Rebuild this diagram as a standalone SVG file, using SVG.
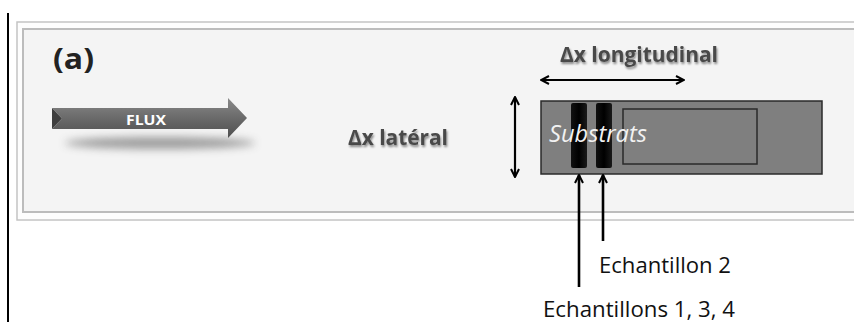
<svg xmlns="http://www.w3.org/2000/svg" width="854" height="322" viewBox="0 0 854 322">
  <defs>
    <linearGradient id="flux" x1="0" y1="0" x2="0" y2="1">
      <stop offset="0" stop-color="#8a8a8a"/>
      <stop offset="0.5" stop-color="#6a6a6a"/>
      <stop offset="1" stop-color="#4e4e4e"/>
    </linearGradient>
    <linearGradient id="bar" x1="0" y1="0" x2="1" y2="0">
      <stop offset="0" stop-color="#111"/>
      <stop offset="0.5" stop-color="#000"/>
      <stop offset="1" stop-color="#1a1a1a"/>
    </linearGradient>
    <filter id="blur" x="-20%" y="-100%" width="140%" height="300%">
      <feGaussianBlur stdDeviation="4"/>
    </filter>
    <filter id="tshadow" x="-10%" y="-30%" width="130%" height="160%">
      <feGaussianBlur in="SourceAlpha" stdDeviation="1.2"/>
      <feOffset dx="1" dy="1.5" result="b"/>
      <feComponentTransfer><feFuncA type="linear" slope="0.45"/></feComponentTransfer>
      <feMerge><feMergeNode/><feMergeNode in="SourceGraphic"/></feMerge>
    </filter>
    <marker id="ah" viewBox="0 0 10 10" refX="9" refY="5" markerWidth="10" markerHeight="10" markerUnits="userSpaceOnUse" orient="auto-start-reverse">
      <path d="M1,1 L9,5 L1,9" fill="none" stroke="#000" stroke-width="2"/>
    </marker>
  </defs>
  <style>
    .lbl { font-family: "Open Sans", "Liberation Sans", sans-serif; font-weight: bold; fill: #4a4a4a; }
    .cap { font-family: "Open Sans", "Liberation Sans", sans-serif; fill: #111; font-size: 21.5px; }
    .dim { stroke: #000; stroke-width: 2.2; fill: none; }
    .conn { stroke: #000; stroke-width: 2.6; fill: none; }
  </style>

  <!-- left rule -->
  <line x1="8" y1="13" x2="8" y2="322" stroke="#000" stroke-width="2"/>

  <!-- panel -->
  <g id="panel">
    <rect x="17" y="22" width="850" height="198" fill="#fdfdfd" stroke="#c4c4c4" stroke-width="1.5"/>
    <rect x="23" y="29" width="850" height="183" fill="#f4f4f4" stroke="#bcbcbc" stroke-width="2"/>
  </g>

  <g id="label-a">
    <text x="53" y="69" font-family="Open Sans, Liberation Sans, sans-serif" font-weight="bold" font-size="29" fill="#222" textLength="41" lengthAdjust="spacingAndGlyphs">(a)</text>
  </g>

  <g id="flux">
    <ellipse cx="160" cy="143" rx="95" ry="6" fill="#555" opacity="0.55" filter="url(#blur)"/>
    <path d="M52,108 L228,108 L228,98 L247,118 L228,138 L228,129 L52,129 L62,118.5 Z" fill="url(#flux)"/>
    <path d="M52,108 L62,118.5 L52,129 Z" fill="#3e3e3e"/>
    <text x="126" y="125" font-family="Open Sans, Liberation Sans, sans-serif" font-weight="bold" font-size="14" fill="#fff" textLength="40" lengthAdjust="spacingAndGlyphs">FLUX</text>
  </g>

  <g id="lateral-label">
    <text class="lbl" x="348" y="145" font-size="22" textLength="100" lengthAdjust="spacingAndGlyphs" filter="url(#tshadow)">Δx latéral</text>
  </g>
  <g id="longitudinal-label">
    <text class="lbl" x="560" y="62" font-size="21" textLength="158" lengthAdjust="spacingAndGlyphs" filter="url(#tshadow)">Δx longitudinal</text>
  </g>

  <g id="substrats">
    <rect x="541" y="101" width="281" height="73" fill="#7f7f7f" stroke="#2a2a2a" stroke-width="1.5"/>
    <rect x="623" y="109" width="134" height="55" fill="#7f7f7f" stroke="#2a2a2a" stroke-width="1.5"/>
    <rect id="sample1" x="571" y="103" width="16" height="65" rx="2" fill="url(#bar)"/>
    <rect id="sample2" x="596" y="103" width="16" height="65" rx="2" fill="url(#bar)"/>
    <text x="549" y="142" font-family="Open Sans, Liberation Sans, sans-serif" font-style="italic" font-size="23" fill="#f2f2f2" textLength="98" lengthAdjust="spacingAndGlyphs">Substrats</text>
  </g>

  <g id="connectors">
    <line class="dim" x1="541" y1="80" x2="684" y2="80" marker-start="url(#ah)" marker-end="url(#ah)"/>
    <line class="dim" x1="515" y1="97" x2="515" y2="177" marker-start="url(#ah)" marker-end="url(#ah)"/>
    <line class="conn" x1="579" y1="287" x2="579" y2="175" marker-end="url(#ah)"/>
    <line class="conn" x1="603" y1="241" x2="603" y2="175" marker-end="url(#ah)"/>
  </g>

  <g id="echantillon2">
    <text class="cap" x="599" y="273" textLength="132" lengthAdjust="spacingAndGlyphs">Echantillon 2</text>
  </g>
  <g id="echantillons134">
    <text class="cap" x="543" y="317" textLength="192" lengthAdjust="spacingAndGlyphs">Echantillons 1, 3, 4</text>
  </g>
</svg>
